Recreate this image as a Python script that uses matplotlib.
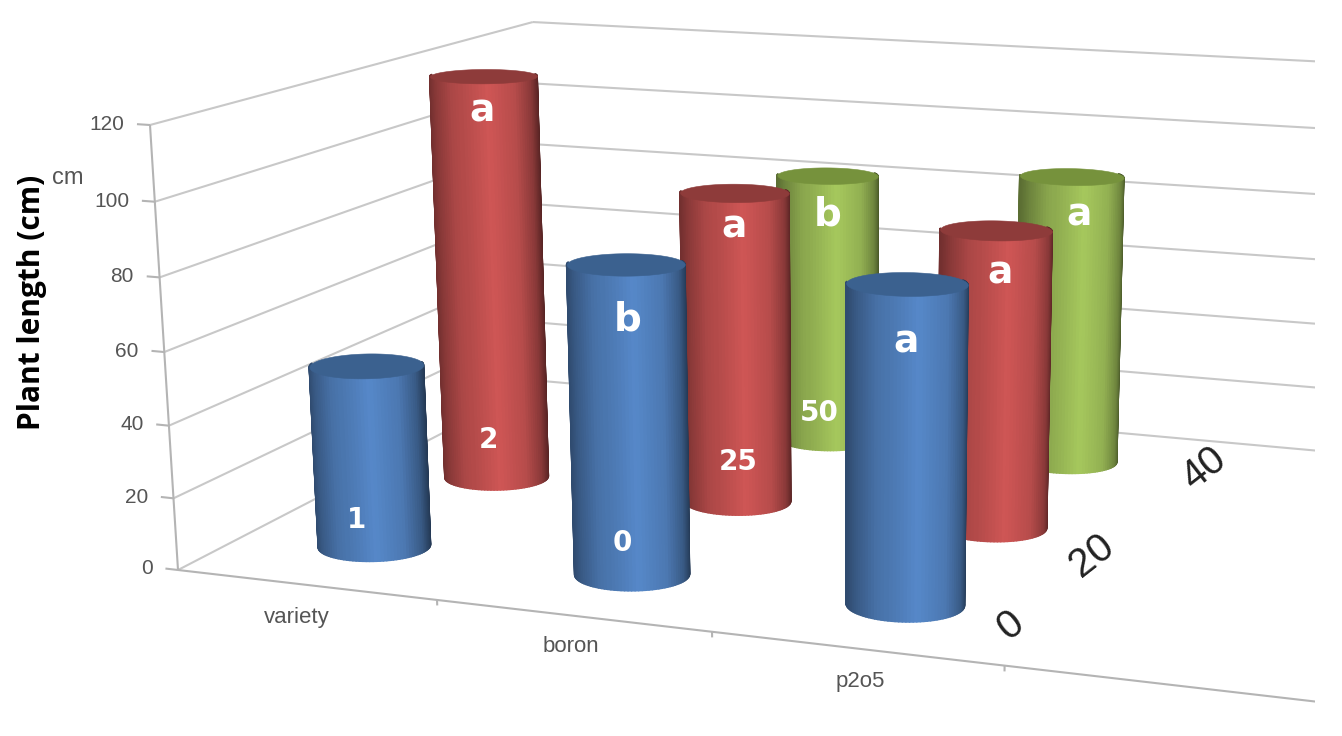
import numpy as np
import matplotlib
matplotlib.use("Agg")
import matplotlib.pyplot as plt
from matplotlib.colors import to_rgb
from matplotlib.patches import Rectangle
from mpl_toolkits.mplot3d import proj3d
from mpl_toolkits.mplot3d.art3d import Poly3DCollection, Line3DCollection

# ---- data ----
categories = ["variety", "boron", "p2o5"]
depth_labels = ["0", "20", "40"]
z_ticks = [0, 20, 40, 60, 80, 100, 120]
values_row0 = [51, 84.5, 85]       # blue
values_row1 = [119.5, 90.5, 85]    # red
values_row2 = [None, 83, 87.5]     # green
y_label = "Plant length (cm)"
unit_label = "cm"
# (text, px, py, size)
bar_texts = [("1", 356, 520, 20), ("a", 482, 112, 27), ("2", 488, 440, 20),
             ("b", 628, 320, 28), ("0", 622, 543, 20), ("a", 734, 228, 27),
             ("25", 738, 462, 20), ("b", 828, 214, 28), ("50", 819, 413, 20),
             ("a", 906, 343, 27), ("a", 1000, 274, 27), ("a", 1079, 215, 27)]

W, H = 1342, 736
fig = plt.figure(figsize=(W / 100, H / 100), dpi=100, facecolor="white")
ax = fig.add_axes([0, (H - W) / 2 / H, 1, W / H], projection="3d", computed_zorder=False)
ax.set_axis_off()

# camera: perspective matrix of the original chart, in picture units
D, ZM = 3.0, 120.0
ru = np.array([246.3, 501.3 / D, -34.0 / ZM, 178.0])
rv = np.array([12.5, -93.3 / D, -450.0 / ZM, 570.0])
rw = np.array([-0.0291, 0.2511 / D, -0.04 / ZM, 1.0])
M = np.vstack([ru, H * rw - rv, [0, 1, 0, 0], rw])
ax.get_proj = lambda: M
ax.viewLim.intervalx = (0, W)
ax.viewLim.intervaly = ((H - W) / 2, H + (W - H) / 2)

GRID = "#c8c8c8"
AX = "#b4b4b4"
TICK = "#555555"
SANS = "Liberation Sans"


def label(x, y, z, s, **kw):
    px, py, _ = proj3d.proj_transform(x, y, z, M)
    ax.text2D(float(px), float(py), s, transform=ax.transData, zorder=3, **kw)


grid_segs, axis_segs = [], []
for z in z_ticks:
    grid_segs.append([(0, D, z), (0, 0, z)])
    grid_segs.append([(0, D, z), (4, D, z)])
    axis_segs.append([(-0.05, 0, z), (0, 0, z)])
    label(-0.1, 0, z - 0.4, str(z), ha="right", va="center", color=TICK,
          fontsize=15, family=SANS)
axis_segs.append([(0, 0, 0), (0, 0, ZM)])
axis_segs.append([(0, 0, 0), (4, 0, 0)])
for i in range(1, 4):
    axis_segs.append([(i, 0, 0), (i, 0, -1.5)])
ax.add_collection3d(Line3DCollection(grid_segs, colors=GRID, linewidths=1.5, zorder=1))
ax.add_collection3d(Line3DCollection(axis_segs, colors=AX, linewidths=1.5, zorder=1))

cat_pos = [(0.65, -0.33), (1.63, -0.3), (2.62, -0.3)]
for c, (x, y) in zip(categories, cat_pos):
    label(x, y, 0, c, ha="center", va="center", color=TICK, fontsize=16, family=SANS)

depth_pos = [(2.90, 0.40), (2.94, 1.27), (3.04, 2.58)]
for s, (x, y) in zip(depth_labels, depth_pos):
    label(x, y, 0, s, ha="center", va="center", color="#222222", fontsize=29,
          family=SANS, rotation=38, rotation_mode="anchor")

RX, RY = 0.2, 0.19
PALETTE = [("#5688c9", "#3b618f"), ("#cf5655", "#8e3b3a"), ("#a6c85d", "#76923c")]
STOPS_S = [-1.0, -0.88, -0.6, 0.05, 0.55, 0.85, 1.0]
STOPS_K = [0.55, 0.66, 0.82, 1.00, 0.88, 0.66, 0.42]
SX, SY = 240 * RX, 119 * RY
PHI = np.arctan2(SY, SX)


def cylinder(col, row, value, colors, order):
    cx, cy = col + 0.5, row + 0.5
    # side wall: the half that faces the viewer, with a small margin
    th = np.linspace(PHI + np.pi - 0.25, PHI + 2 * np.pi + 0.25, 61)
    s = np.cos(th - PHI)
    kmid = np.interp(0.5 * (s[:-1] + s[1:]), STOPS_S, STOPS_K)
    base = np.array(to_rgb(colors[0]))
    fc = np.zeros((2, th.size, 4))
    fc[0, :-1, :3] = fc[1, :-1, :3] = np.outer(kmid, base)
    fc[..., 3] = 1
    X = np.vstack([cx + RX * np.cos(th)] * 2)
    Y = np.vstack([cy + RY * np.sin(th)] * 2)
    Z = np.vstack([np.zeros_like(th), np.full_like(th, value)])
    ax.plot_surface(X, Y, Z, facecolors=fc, rstride=1, cstride=1, shade=False,
                    linewidth=1.3, antialiased=True, zorder=order)
    rim = np.linspace(0, 2 * np.pi, 121)
    top = Poly3DCollection([list(zip(cx + RX * np.cos(rim), cy + RY * np.sin(rim),
                                     np.full_like(rim, value)))],
                           facecolor=colors[1], edgecolor=colors[1], linewidth=0.4,
                           zorder=order + 0.5)
    ax.add_collection3d(top)


rows = [values_row0, values_row1, values_row2]
order = 22
for r in (2, 1, 0):
    for c, v in enumerate(rows[r]):
        if v is not None:
            cylinder(c, r, v, PALETTE[r], order)
            order += 1

for txt, px, py, size in bar_texts:
    ax.text2D(px / W, 1 - py / H, txt, transform=fig.transFigure, color="white",
              fontsize=size, fontweight="bold", family="DejaVu Sans",
              ha="center", va="center", zorder=100)

ax.text2D(32 / W, 1 - 302 / H, y_label, transform=fig.transFigure, rotation=90,
          ha="center", va="center", fontsize=21.5, fontweight="bold",
          family="Open Sans", color="black", zorder=100)
ax.text2D(68 / W, 1 - 178 / H, unit_label, transform=fig.transFigure, ha="center",
          va="center", fontsize=17, family=SANS, color=TICK, zorder=100)

# the picture is cropped on the right
fig.add_artist(Rectangle((1315 / W, 0), 27 / W, 1, transform=fig.transFigure,
                         facecolor="white", edgecolor="none", zorder=5))

fig.savefig("out.png", dpi=100, facecolor="white")
